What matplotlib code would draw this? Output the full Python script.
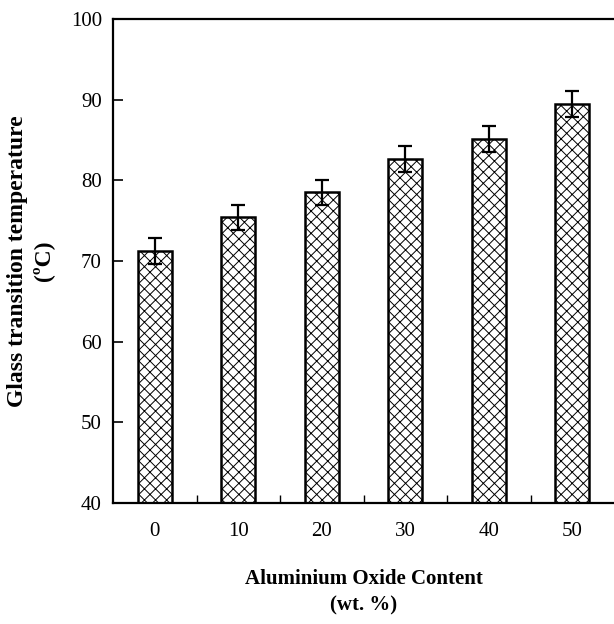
import matplotlib.pyplot as plt
import numpy as np

# data
content = [0, 10, 20, 30, 40, 50]
tg = [71.2, 75.4, 78.5, 82.6, 85.1, 89.5]
tg_err = [1.6, 1.5, 1.6, 1.6, 1.6, 1.6]

plt.rcParams['font.family'] = ['Liberation Serif', 'DejaVu Serif']
plt.rcParams['hatch.linewidth'] = 0.7
plt.rcParams['hatch.color'] = '#222222'

fig = plt.figure(figsize=(6.14, 6.24), dpi=100)
ax = fig.add_axes([113 / 614, 1 - 503 / 624, 501 / 614, (503 - 19) / 624])

x = np.arange(len(content))
ax.bar(x, tg, width=0.41, bottom=0, color='white', edgecolor='black',
       linewidth=1.8, hatch='xxx', zorder=2)
ax.errorbar(x, tg, yerr=tg_err, fmt='none', ecolor='black', elinewidth=1.6,
            capsize=5, capthick=1.6, zorder=3)

ax.set_xlim(-0.5, len(content) - 0.5)
ax.set_ylim(40, 100)
ax.set_yticks(np.arange(40, 101, 10))
ax.set_xticks(x)
ax.set_xticklabels([str(c) for c in content], fontsize=15)
ax.tick_params(axis='x', length=0, pad=14)
ax.set_xticks(np.arange(0.5, len(content) - 1, 1), minor=True)
ax.tick_params(axis='x', which='minor', direction='in', length=6, width=1)
ax.tick_params(axis='y', direction='in', length=7, width=1.2, labelsize=15, pad=8)

for s in ['left', 'bottom', 'top']:
    ax.spines[s].set_linewidth(1.6)
ax.spines['right'].set_visible(False)

ax.set_xlabel('Aluminium Oxide Content\n(wt. %)', fontsize=15, fontweight='bold',
              linespacing=1.4)
ax.xaxis.set_label_coords(0.5, -0.184)
ax.xaxis.label.set_va('center')
ax.set_ylabel('Glass transition temperature\n(ºC)', fontsize=17, fontweight='bold',
              linespacing=1.25)
ax.yaxis.set_label_coords(-0.164, 0.5)
ax.yaxis.label.set_va('center')

plt.savefig('out.png', dpi=100)
